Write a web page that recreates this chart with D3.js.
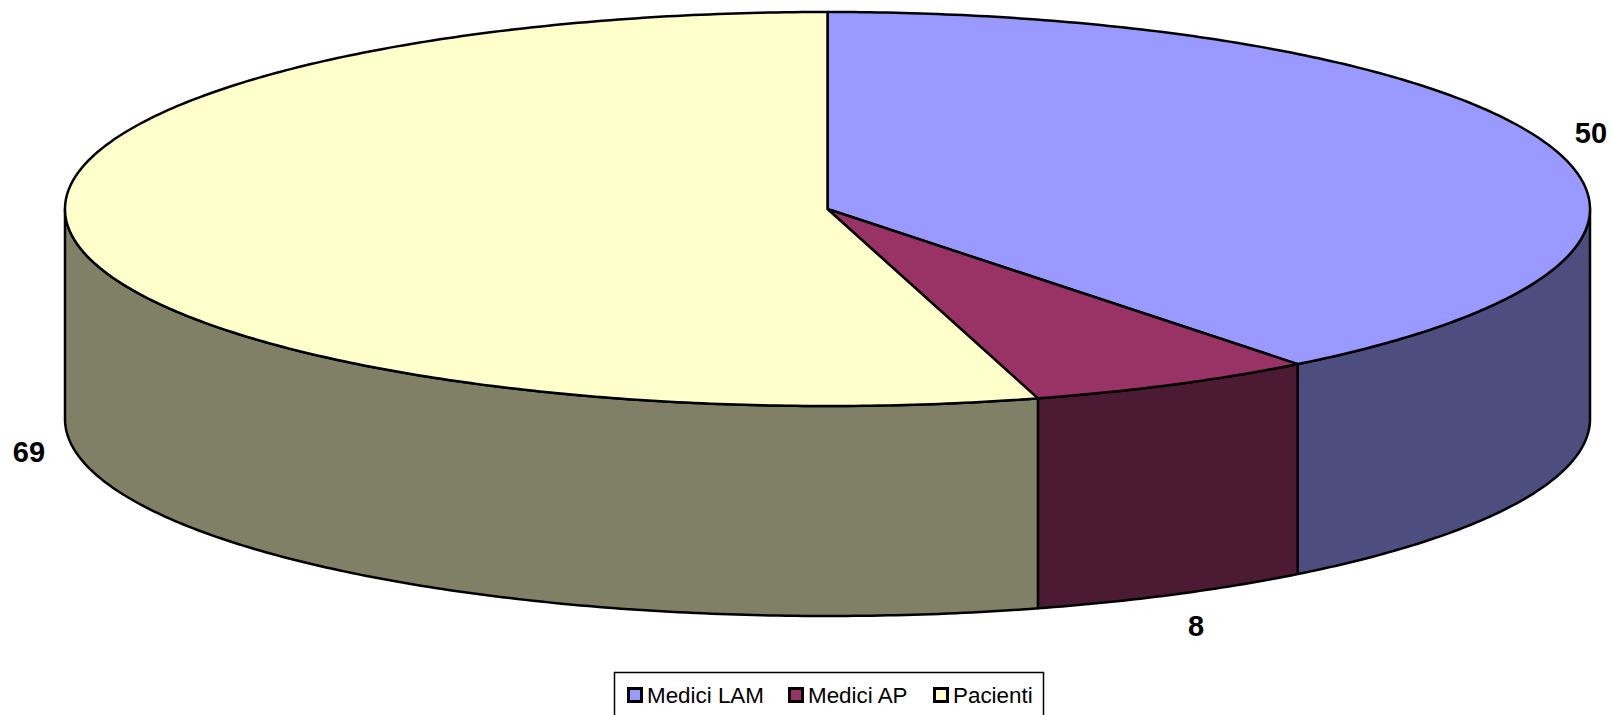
<!DOCTYPE html>
<html>
<head>
<meta charset="utf-8">
<script src="https://cdn.jsdelivr.net/npm/d3@7"></script>
<style>
  html, body { margin: 0; padding: 0; background: #fff; overflow: hidden; }
  svg { display: block; }
  text { font-family: "Liberation Sans", Arial, sans-serif; fill: #000; }
</style>
</head>
<body>
<div id="chart"></div>
<script>
// Data
const categories = ["Medici LAM", "Medici AP", "Pacienti"];
const values = [50, 8, 69];
const topColors = ["#9999ff", "#993366", "#ffffcc"];
const sideColors = ["#4d4d80", "#4d1a33", "#808066"];

const width = 1612, height = 715;
const cx = 827.5, cy = 209, rx = 762.5, ry = 197, depth = 210;
const lineWidth = 2.5;

// The original 3D projection moves the slice edges a little (degrees)
const edgeSkew = [0.2, -0.43, 0];

const svg = d3.select("#chart").append("svg")
  .attr("width", width)
  .attr("height", height);

// Slice angles, clockwise from 12 o'clock, in input order
const slices = d3.pie().sort(null).value(d => d)(values)
  .map((d, i) => ({
    i,
    startAngle: d.startAngle + (i ? edgeSkew[i - 1] : 0) * Math.PI / 180,
    endAngle: d.endAngle + edgeSkew[i] * Math.PI / 180
  }));

// The pie is a circle squashed into an ellipse
const sx = d3.scaleLinear().domain([-1, 1]).range([cx - rx, cx + rx]);
const sy = d3.scaleLinear().domain([-1, 1]).range([cy - ry, cy + ry]);
const px = a => sx(Math.sin(a));
const py = a => sy(-Math.cos(a));

function arcPoints(a0, a1, dy) {
  const n = Math.max(2, Math.ceil((a1 - a0) * 90));
  return d3.range(n + 1).map(k => {
    const a = a0 + (a1 - a0) * k / n;
    return [px(a), py(a) + dy];
  });
}
const line = d3.line();

// Side wall: only the front half of the rim is visible
const frontStart = Math.PI / 2, frontEnd = Math.PI * 1.5;
slices.forEach(s => {
  const a0 = Math.max(s.startAngle, frontStart);
  const a1 = Math.min(s.endAngle, frontEnd);
  if (a1 <= a0) return;
  const pts = arcPoints(a0, a1, 0).concat(arcPoints(a0, a1, depth).reverse());
  svg.append("path")
    .attr("d", line(pts) + "Z")
    .attr("fill", sideColors[s.i])
    .attr("stroke", "#000")
    .attr("stroke-width", lineWidth)
    .attr("stroke-linejoin", "round");
});

// Top face
slices.forEach(s => {
  const pts = [[sx(0), sy(0)]].concat(arcPoints(s.startAngle, s.endAngle, 0));
  svg.append("path")
    .attr("d", line(pts) + "Z")
    .attr("fill", topColors[s.i])
    .attr("stroke", "#000")
    .attr("stroke-width", lineWidth)
    .attr("stroke-linejoin", "round");
});

// Value labels
const labelPos = [[1591, 133], [1196, 626], [29, 451.5]];
svg.selectAll("text.value")
  .data(values)
  .enter()
  .append("text")
  .attr("class", "value")
  .attr("x", (d, i) => labelPos[i][0])
  .attr("y", (d, i) => labelPos[i][1])
  .attr("text-anchor", "middle")
  .attr("dominant-baseline", "central")
  .attr("font-size", 29)
  .attr("font-weight", "bold")
  .text(d => d);

// Legend, its box runs off the bottom of the picture
const legendX = [627, 788, 933];
const legend = svg.append("g");
legend.append("rect")
  .attr("x", 614.5).attr("y", 672.5)
  .attr("width", 429).attr("height", 50)
  .attr("fill", "#fff")
  .attr("stroke", "#000")
  .attr("stroke-width", 1.5);
categories.forEach((c, i) => {
  legend.append("rect")
    .attr("x", legendX[i] + 1.5).attr("y", 688.5)
    .attr("width", 13).attr("height", 13)
    .attr("fill", topColors[i])
    .attr("stroke", "#000")
    .attr("stroke-width", 3);
  legend.append("text")
    .attr("x", legendX[i] + 20).attr("y", 703)
    .attr("font-size", 22.4)
    .text(c);
});
</script>
</body>
</html>
